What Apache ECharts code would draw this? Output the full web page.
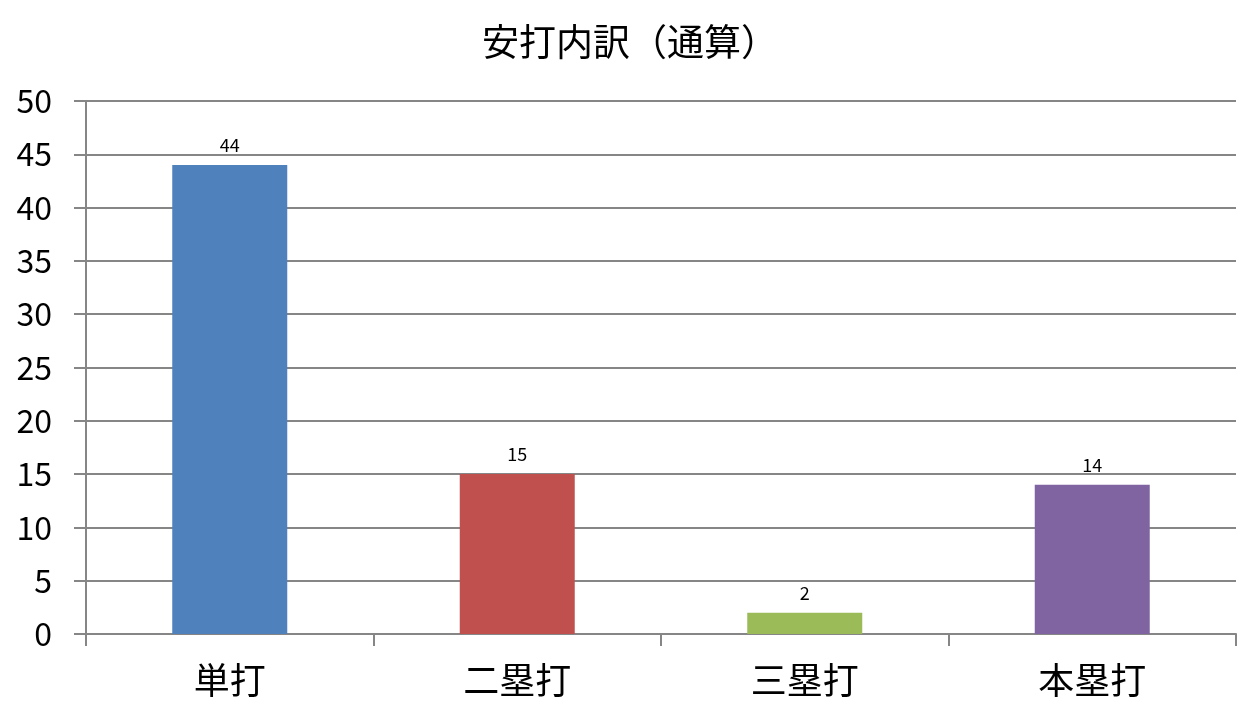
<!DOCTYPE html>
<html><head><meta charset="utf-8">
<script src="https://cdn.jsdelivr.net/npm/echarts@6/dist/echarts.min.js"></script>
<style>html,body{margin:0;padding:0;background:#fff}#c{width:1260px;height:720px}</style>
</head><body><div id="c"></div>
<script>
const title = '安打内訳（通算）';
const categories = ['単打', '二塁打', '三塁打', '本塁打'];
const values = [44, 15, 2, 14];
const colors = ['#4F81BD', '#C0504D', '#9BBB59', '#8064A2'];
const font = '"Noto Sans CJK JP", "Noto Sans", sans-serif';
const chart = echarts.init(document.getElementById('c'));
chart.setOption({
  animation: false,
  title: { text: title, left: 'center', top: 18, textStyle: { fontFamily: font, fontSize: 37, fontWeight: 'normal', color: '#000' } },
  grid: { left: 86, right: 24, top: 101, bottom: 86 },
  xAxis: {
    type: 'category', data: categories,
    axisLine: { lineStyle: { color: '#868686', width: 2 } },
    axisTick: { show: true, length: 12, lineStyle: { color: '#868686', width: 2 } },
    axisLabel: { fontFamily: font, fontSize: 36, color: '#000', margin: 28 }
  },
  yAxis: {
    type: 'value', min: 0, max: 50, interval: 5,
    axisLine: { show: true, lineStyle: { color: '#868686', width: 2 } },
    axisTick: { show: true, length: 12, lineStyle: { color: '#868686', width: 2 } },
    splitLine: { lineStyle: { color: '#868686', width: 2 } },
    axisLabel: { fontFamily: font, fontSize: 32, color: '#000', margin: 34 }
  },
  series: [{
    type: 'bar', barWidth: '40%',
    data: values.map((v, i) => ({ value: v, itemStyle: { color: colors[i] } })),
    label: { show: true, position: 'top', distance: 11, fontFamily: font, fontSize: 18, color: '#000' }
  }]
});
</script></body></html>
